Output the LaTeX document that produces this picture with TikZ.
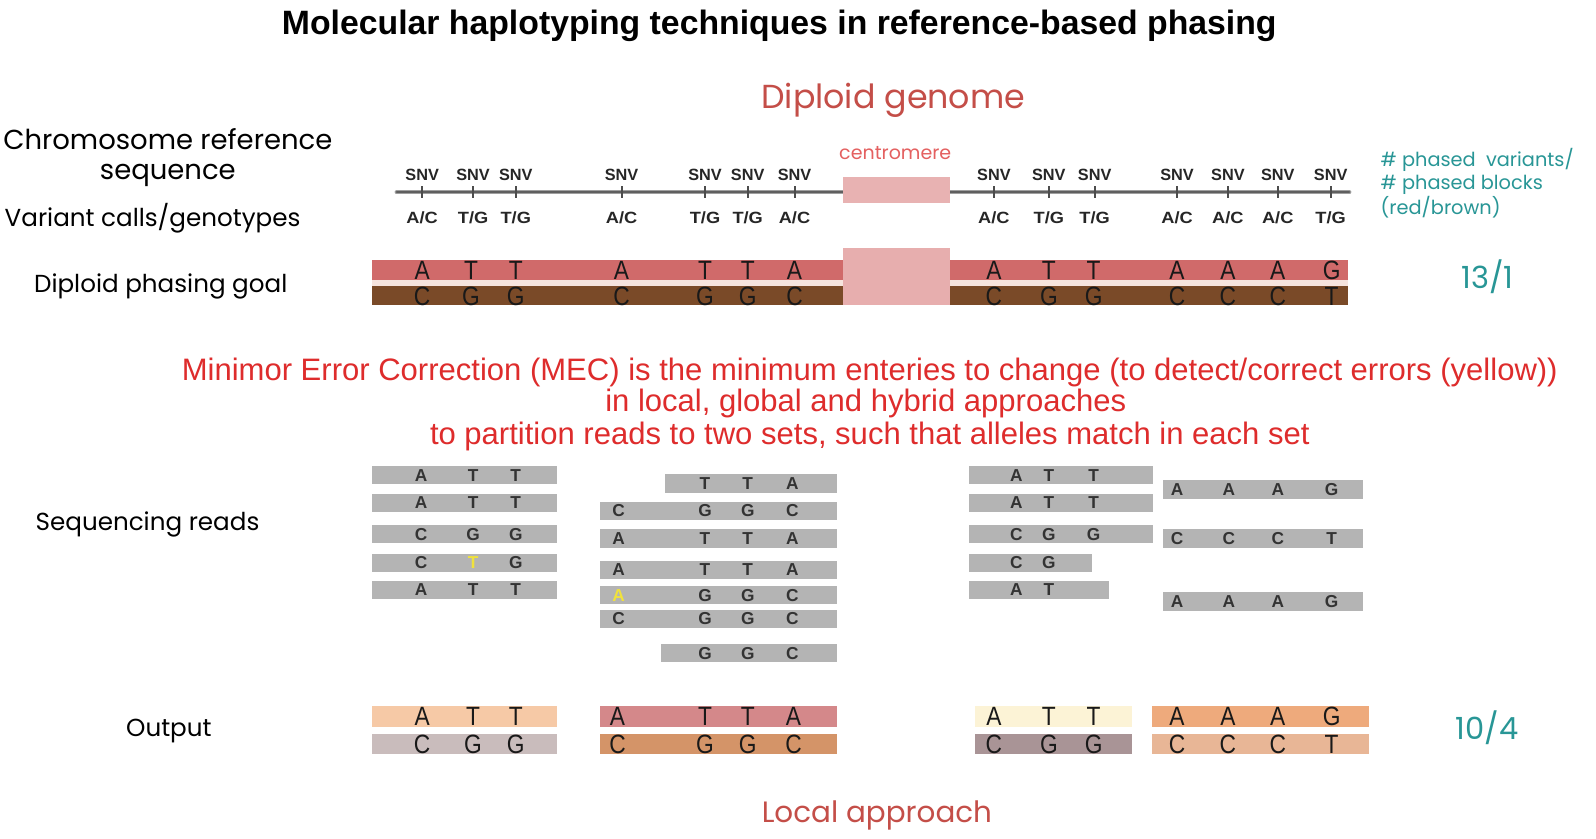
\documentclass[tikz,border=0pt]{standalone}
\usepackage{fontspec}
\setmainfont{Liberation Sans}
\newfontfamily\geo{Poppins}
\newfontfamily\narrowf[FakeStretch=0.86]{Liberation Sans}
\newfontfamily\widef[FakeStretch=1.12]{Liberation Sans}
\definecolor{dgred}{RGB}{196,78,72}
\definecolor{cenred}{RGB}{228,96,96}
\definecolor{mecred}{RGB}{222,44,44}
\definecolor{teal}{RGB}{40,150,150}
\definecolor{chrom}{RGB}{95,95,95}
\definecolor{centro}{RGB}{232,178,178}
\definecolor{hapA}{RGB}{208,106,106}
\definecolor{hapB}{RGB}{122,74,40}
\definecolor{gapc}{RGB}{246,228,222}
\definecolor{readg}{RGB}{180,180,180}
\definecolor{errY}{RGB}{240,226,60}
\definecolor{oAa}{RGB}{246,201,166}
\definecolor{oAb}{RGB}{201,188,188}
\definecolor{oBa}{RGB}{212,136,138}
\definecolor{oBb}{RGB}{212,148,104}
\definecolor{oCa}{RGB}{252,243,214}
\definecolor{oCb}{RGB}{169,148,150}
\definecolor{oDa}{RGB}{238,170,124}
\definecolor{oDb}{RGB}{232,182,150}
\tikzset{
  lbl/.style={font=\geo\fontsize{24.2}{29}\selectfont, inner sep=0},
  snvlbl/.style={font=\bfseries\fontsize{16}{16}\selectfont, inner sep=0, text=black!85},
  gtlbl/.style={font=\widef\bfseries\fontsize{16}{16}\selectfont, inner sep=0, text=black!85},
  bar/.style={anchor=north west, inner sep=0, minimum height=#1},
  bar/.default=20pt,
  glet/.style={font=\narrowf\fontsize{26}{26}\selectfont, inner sep=0, text=black!90},
  rlet/.style={font=\bfseries\fontsize{17}{17}\selectfont, inner sep=0, text=black!80},
  mec/.style={font=\fontsize{30.5}{32}\selectfont, text=mecred, inner sep=0},
  tealtxt/.style={text=teal, inner sep=0},
}
\begin{document}
\begin{tikzpicture}[x=1pt,y=-1pt,scale=1.0173,every node/.append style={transform shape}]
\useasboundingbox[fill=white] (0,0) rectangle (1568.85,823.77);

% title
\node[font=\bfseries\fontsize{33.2}{35}\selectfont, inner sep=0] (title) at (766,25) {Molecular haplotyping techniques in reference-based phasing};
\node[font=\geo\fontsize{32.7}{34}\selectfont, text=dgred, inner sep=0] (dg) at (878,99) {Diploid genome};

% left labels
\node[lbl, font=\geo\fontsize{27}{30}\selectfont, align=center] (chr) at (165,155) {Chromosome reference\\sequence};
\node[lbl] (var) at (150,215) {Variant calls/genotypes};
\node[lbl] (goal) at (158,282) {Diploid phasing goal};
\node[lbl] (seq) at (145,516) {Sequencing reads};
\node[lbl] (out) at (166,719) {Output};

% right labels
\node[tealtxt, font=\geo\fontsize{19}{22.5}\selectfont, align=left, anchor=north west] (ph) at (1357,146) {\# phased\ \ variants/\\\# phased blocks\\(red/brown)};
\node[tealtxt, font=\geo\fontsize{30}{30}\selectfont] (r131) at (1462,272) {13/1};
\node[tealtxt, font=\geo\fontsize{30}{30}\selectfont] (r104) at (1462,715) {10/4};

% chromosome line
\coordinate (cl) at (390,189);
\coordinate (cr) at (1326,189);
\draw[chrom!60, line width=4.4pt, line cap=round] (cl) -- (cr);
\draw[chrom, line width=2.4pt, line cap=round] (cl) -- (cr);
\foreach \x/\a/\b [count=\i] in {415/A/C,465/T/G,507/T/G,611/A/C,693/T/G,735/T/G,781/A/C,977/A/C,1031/T/G,1076/T/G,1157/A/C,1207/A/C,1256/A/C,1308/T/G}{
  \coordinate (tt\i) at (\x,183);
  \coordinate (tb\i) at (\x,195);
  \draw[chrom!80!black, line width=1.8pt] (tt\i) -- (tb\i);
  \node[snvlbl] (snv\i) at (\x,172) {SNV};
  \node[gtlbl] (gt\i) at (\x,214) {\a/\b};
}
\node[bar=25pt, fill=centro, minimum width=106pt] (cen) at (828,174) {};
\node[font=\geo\fontsize{18.7}{18.7}\selectfont, text=cenred, inner sep=0] (centxt) at (880,150) {centromere};

% diploid phasing goal
\node[bar, fill=hapA, minimum width=960pt] (goalA) at (365,255) {};
\node[bar=6pt, fill=gapc, minimum width=960pt] (goalgap) at (365,275) {};
\node[bar=19pt, fill=hapB, minimum width=960pt] (goalB) at (365,281) {};
\node[bar=56pt, fill=centro!95!hapA, minimum width=106pt] (goalcen) at (828,244) {};
\foreach \x/\a/\b [count=\i] in {415/A/C,463/T/G,507/T/G,611/A/C,693/T/G,735/T/G,781/A/C,977/A/C,1031/T/G,1075/T/G,1157/A/C,1207/A/C,1256/A/C,1309/G/T}{
  \node[glet] (ga\i) at (\x,265.5) {\a};
  \node[glet] (gb\i) at (\x,291) {\b};
}

% MEC text
\node[mec] (mec1) at (855,366) {Minimor Error Correction (MEC) is the minimum enteries to change (to detect/correct errors (yellow))};
\node[mec] (mec2) at (851,397) {in local, global and hybrid approaches};
\node[mec] (mec3) at (855,429) {to partition reads to two sets, such that alleles match in each set};

% reads block 1
\foreach \y/\a/\b/\c [count=\i] in {458/A/T/T,485/A/T/T,516/C/G/G,544/C/\textcolor{errY}{T}/G,571/A/T/T}{
  \node[bar=18pt, fill=readg, minimum width=182pt] (ra\i) at (365,\y) {};
  \node[rlet] (ra\i a) at (414,\y+9) {\a};
  \node[rlet] (ra\i b) at (465,\y+9) {\b};
  \node[rlet] (ra\i c) at (507,\y+9) {\c};
}
% reads block 2
\node[bar=18pt, fill=readg, minimum width=170pt] (rb1) at (653,466) {};
\node[rlet] (rb1b) at (693,475) {T};
\node[rlet] (rb1c) at (735,475) {T};
\node[rlet] (rb1d) at (779,475) {A};
\foreach \y/\a/\b/\c/\d [count=\i from 2] in {493/C/G/G/C,520/A/T/T/A,551/A/T/T/A,576/\textcolor{errY}{A}/G/G/C,599/C/G/G/C}{
  \node[bar=18pt, fill=readg, minimum width=233pt] (rb\i) at (590,\y) {};
  \node[rlet] (rb\i a) at (608,\y+9) {\a};
  \node[rlet] (rb\i b) at (693,\y+9) {\b};
  \node[rlet] (rb\i c) at (735,\y+9) {\c};
  \node[rlet] (rb\i d) at (779,\y+9) {\d};
}
\node[bar=18pt, fill=readg, minimum width=173pt] (rb7) at (650,633) {};
\node[rlet] (rb7b) at (693,642) {G};
\node[rlet] (rb7c) at (735,642) {G};
\node[rlet] (rb7d) at (779,642) {C};

% reads block 3
\foreach \y/\a/\b/\c [count=\i] in {458/A/T/T,485/A/T/T,516/C/G/G}{
  \node[bar=18pt, fill=readg, minimum width=181pt] (rc\i) at (952,\y) {};
  \node[rlet] (rc\i a) at (999,\y+9) {\a};
  \node[rlet] (rc\i b) at (1031,\y+9) {\b};
  \node[rlet] (rc\i c) at (1075,\y+9) {\c};
}
\node[bar=18pt, fill=readg, minimum width=121pt] (rc4) at (952,544) {};
\node[rlet] (rc4a) at (999,553) {C};
\node[rlet] (rc4b) at (1031,553) {G};
\node[bar=18pt, fill=readg, minimum width=138pt] (rc5) at (952,571) {};
\node[rlet] (rc5a) at (999,580) {A};
\node[rlet] (rc5b) at (1031,580) {T};

% reads block 4
\foreach \y/\a/\b/\c/\d [count=\i] in {472/A/A/A/G,520/C/C/C/T,582/A/A/A/G}{
  \node[bar=18pt, fill=readg, minimum width=197pt] (rd\i) at (1143,\y) {};
  \node[rlet] (rd\i a) at (1157,\y+9) {\a};
  \node[rlet] (rd\i b) at (1208,\y+9) {\b};
  \node[rlet] (rd\i c) at (1256,\y+9) {\c};
  \node[rlet] (rd\i d) at (1309,\y+9) {\d};
}

% output
\node[bar, fill=oAa, minimum width=182pt] (oA1) at (365,694) {};
\node[bar, fill=oAb, minimum width=182pt] (oA2) at (365,721) {};
\node[bar, fill=oBa, minimum width=233pt] (oB1) at (590,694) {};
\node[bar, fill=oBb, minimum width=233pt] (oB2) at (590,721) {};
\node[bar, fill=oCa, minimum width=155pt] (oC1) at (958,694) {};
\node[bar, fill=oCb, minimum width=155pt] (oC2) at (958,721) {};
\node[bar, fill=oDa, minimum width=213pt] (oD1) at (1132,694) {};
\node[bar, fill=oDb, minimum width=213pt] (oD2) at (1132,721) {};
\foreach \x/\a/\b [count=\i] in {415/A/C,465/T/G,507/T/G,607/A/C,693/T/G,735/T/G,780/A/C,977/A/C,1031/T/G,1075/T/G,1157/A/C,1207/A/C,1256/A/C,1309/G/T}{
  \node[glet] (oa\i) at (\x,704.5) {\a};
  \node[glet] (ob\i) at (\x,731.5) {\b};
}

\node[font=\geo\fontsize{28.9}{31}\selectfont, text=dgred, inner sep=0] (local) at (862,802) {Local approach};
\end{tikzpicture}
\end{document}
